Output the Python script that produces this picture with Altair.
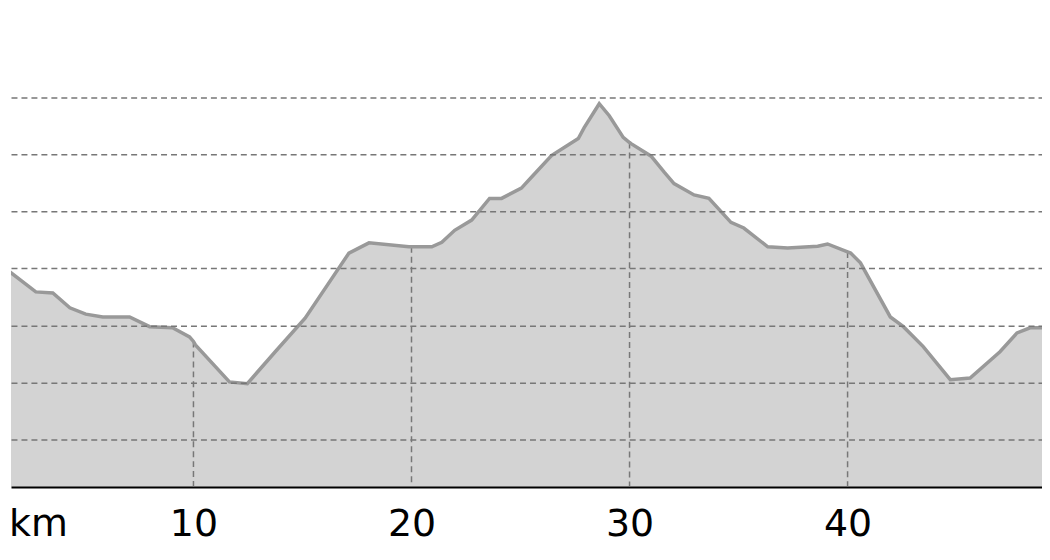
import altair as alt
import pandas as pd

# profil (km, altitude)
km = [1.27, 2.77, 3.55, 4.33, 5.06, 5.84, 7.07, 7.99, 9.04, 9.82, 10.0, 10.09,
      11.65, 12.47, 13.75, 15.12, 17.13, 18.05, 19.88, 20.0, 20.93, 21.39, 21.98,
      22.76, 23.58, 24.13, 25.04, 25.50, 26.42, 27.65, 27.92, 28.61, 29.07, 29.71,
      30.0, 30.07, 30.99, 31.59, 32.04, 32.96, 33.64, 34.65, 35.24, 36.34, 37.25,
      38.63, 39.08, 40.0, 40.14, 40.59, 41.96, 42.56, 43.47, 44.71, 45.62, 46.99,
      47.77, 48.37, 49.28]
alt_m = [403, 359, 357, 331, 320, 315, 315, 298, 296, 280, 272, 266,
         201, 198, 254, 313, 427, 445, 438, 438, 438, 446, 467,
         485, 523, 523, 541, 560, 598, 628, 647, 689, 668, 630,
         621, 619, 597, 569, 549, 529, 523, 481, 471, 438, 436,
         439, 443, 429, 427, 410, 315, 298, 263, 205, 208, 254,
         287, 296, 296]

grid_values = [100, 200, 300, 400, 500, 600, 700]
x_ticks = [2.865, 10, 20, 30, 40]

df = pd.DataFrame({"km": km, "alt": alt_m})

x = alt.X("km:Q", scale=alt.Scale(domain=[1.631, 48.917], nice=False, zero=False),
          axis=alt.Axis(values=x_ticks, labelExpr="datum.value < 5 ? 'km' : datum.label",
                        title=None, grid=False, ticks=False, domainColor="black",
                        domainWidth=3, labelFontSize=38, labelColor="black",
                        labelFont="DejaVu Sans", labelPadding=19, labelFlush=False))
y = alt.Y("alt:Q", scale=alt.Scale(domain=[17.8, 855.6], nice=False, zero=False),
          axis=alt.Axis(values=grid_values, title=None, labels=False, ticks=False,
                        domain=False, grid=True, gridDash=[6, 4], gridColor="#777777",
                        gridWidth=1.5, zindex=1))

base = alt.Chart(df).encode(x=x)

area = base.mark_area(color="#d3d3d3", clip=True).encode(y=y)

rules = base.mark_rule(color="#777777", strokeDash=[6, 4], strokeWidth=1.5, clip=True).encode(
    y=alt.Y("alt:Q"), y2=alt.datum(17.8)
).transform_filter("datum.km % 10 == 0")

line = base.mark_line(color="#999999", strokeWidth=3.5, clip=True).encode(y=alt.Y("alt:Q"))

chart = alt.layer(area, rules, line).properties(
    width=1034, height=479, padding=0
).configure_view(strokeWidth=0)

chart.save("out.html", embed_options={"renderer": "svg", "actions": False})
